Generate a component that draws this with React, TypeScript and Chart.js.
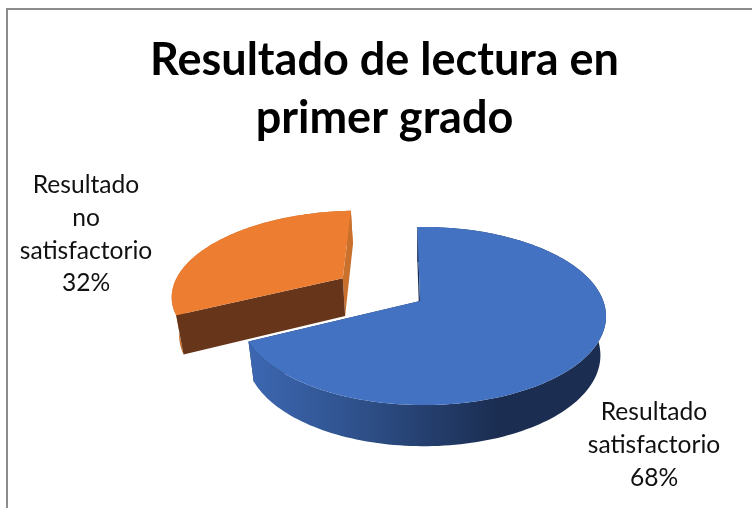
import React, { useEffect, useRef } from "react";
import { Chart, registerables, ArcElement, PieController } from "chart.js";

const categories = ["Resultado satisfactorio", "Resultado no satisfactorio"];
const values = [68, 32];
const explosion = [0, 0.53];
const titleLines = ["Resultado de lectura en", "primer grado"];
const labelLines = [
  ["Resultado", "satisfactorio"],
  ["Resultado", "no", "satisfactorio"],
];
const sliceColors = ["#4372C2", "#EC7D31"];
const startWallColors = ["#1B2E52", "#67351A"];
const endWallColors = ["#1B2E52", "#C8702C"];
const labelAnchors = [
  { x: 654, y: 412 },
  { x: 86, y: 185 },
];

const FONT = "Lato";
const view = { ax: 420, ay: 301, rx: 180, ry: 86.5, k: 0.1685, m: 0.018, depth: 38.5 };

function project(u: number, v: number, z: number): [number, number] {
  const w = 1 - view.k * v - view.m * u;
  const s = 1 - 0.03 * z;
  return [
    view.ax + (view.rx * u * s) / w,
    view.ay + (view.ry * v * s) / w + z * view.depth * (1 + 0.15 * v),
  ];
}

function trace(ctx: CanvasRenderingContext2D, pts: [number, number][]) {
  ctx.beginPath();
  pts.forEach((p, i) => (i ? ctx.lineTo(p[0], p[1]) : ctx.moveTo(p[0], p[1])));
  ctx.closePath();
}

class Arc3D extends ArcElement {
  static id = "arc3d";
  draw(ctx: CanvasRenderingContext2D) {
    const self = this as any;
    const i = sliceColors.indexOf(String(self.options.backgroundColor));
    const a0 = self.startAngle as number;
    const a1 = self.endAngle as number;
    const mid = (a0 + a1) / 2;
    const ou = explosion[i] * Math.cos(mid);
    const ov = explosion[i] * Math.sin(mid);
    const steps = 160;
    const rim = (z: number) => {
      const pts: [number, number][] = [];
      for (let n = 0; n <= steps; n++) {
        const a = a0 + ((a1 - a0) * n) / steps;
        pts.push(project(ou + Math.cos(a), ov + Math.sin(a), z));
      }
      return pts;
    };
    const top = rim(0);
    const bottom = rim(1);
    const apexTop = project(ou, ov, 0);
    const apexBottom = project(ou, ov, 1);

    ctx.save();
    // far cut wall
    ctx.fillStyle = endWallColors[i];
    trace(ctx, [top[steps], apexTop, apexBottom, bottom[steps]]);
    ctx.fill();
    // outer wall
    if (i === 0) {
      const g = ctx.createLinearGradient(250, 0, 495, 0);
      g.addColorStop(0, "#3C67B1");
      g.addColorStop(0.4, "#30538F");
      g.addColorStop(1, "#1B2E52");
      ctx.fillStyle = g;
    } else {
      ctx.fillStyle = endWallColors[i];
    }
    trace(ctx, [...top, ...bottom.slice().reverse()]);
    ctx.fill();
    // near cut wall
    ctx.fillStyle = startWallColors[i];
    trace(ctx, [top[0], apexTop, apexBottom, bottom[0]]);
    ctx.fill();
    // top face
    ctx.fillStyle = self.options.backgroundColor;
    trace(ctx, [apexTop, ...top]);
    ctx.fill();
    ctx.restore();
  }
}

class Pie3DController extends PieController {
  static id = "pie3d";
  static defaults = { dataElementType: "arc3d" };
}

Chart.register(...registerables, Arc3D, Pie3DController);

const framePlugin = {
  id: "frame",
  beforeDraw(chart: any) {
    const { ctx } = chart;
    ctx.save();
    ctx.strokeStyle = "#8C8C8C";
    ctx.lineWidth = 2;
    ctx.strokeRect(7, 9, 900, 700);
    ctx.restore();
  },
};

const sliceLabelPlugin = {
  id: "sliceLabels",
  afterDraw(chart: any) {
    const { ctx } = chart;
    const total = values.reduce((a, b) => a + b, 0);
    ctx.save();
    ctx.font = `24.6px ${FONT}`;
    ctx.fillStyle = "#111111";
    ctx.textAlign = "center";
    ctx.textBaseline = "middle";
    values.forEach((val, i) => {
      const lines = [...labelLines[i], `${Math.round((val / total) * 100)}%`];
      lines.forEach((t, n) => ctx.fillText(t, labelAnchors[i].x, labelAnchors[i].y + n * 32.8));
    });
    ctx.restore();
  },
};

export default function App() {
  const ref = useRef<HTMLCanvasElement>(null);
  useEffect(() => {
    const chart = new Chart(ref.current!, {
      type: "pie3d" as any,
      data: {
        labels: categories,
        datasets: [{ data: values, backgroundColor: sliceColors, borderWidth: 0 }],
      },
      options: {
        responsive: false,
        animation: false,
        rotation: -1,
        layout: { padding: { left: 17 } },
        plugins: {
          legend: { display: false },
          tooltip: { enabled: false },
          title: {
            display: true,
            text: titleLines,
            color: "#000000",
            font: { family: FONT, size: 45, weight: "bold", lineHeight: 1.294 },
            padding: { top: 31, bottom: 0 },
          },
        },
      } as any,
      plugins: [framePlugin, sliceLabelPlugin],
    });
    return () => chart.destroy();
  }, []);
  return (
    <canvas
      ref={ref}
      width={752}
      height={508}
      style={{ position: "absolute", left: 0, top: 0, display: "block" }}
    />
  );
}
